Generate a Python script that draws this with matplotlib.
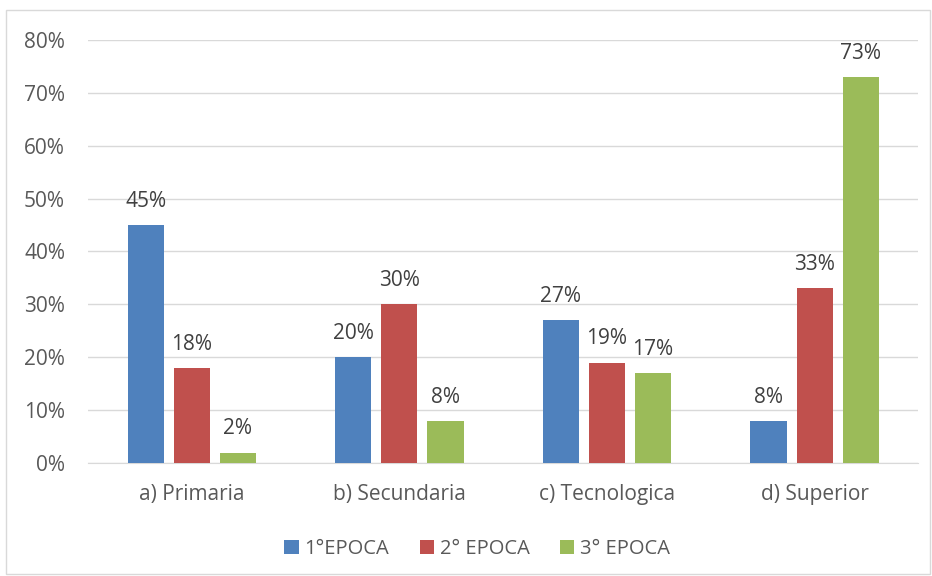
import numpy as np
import matplotlib
matplotlib.use("Agg")
import matplotlib.pyplot as plt
from matplotlib.patches import Rectangle
from matplotlib.ticker import PercentFormatter

categories = ["a) Primaria", "b) Secundaria", "c) Tecnologica", "d) Superior"]
series = ["1°EPOCA", "2° EPOCA", "3° EPOCA"]
epoca1 = [45, 20, 27, 8]
epoca2 = [18, 30, 19, 33]
epoca3 = [2, 8, 17, 73]
colors = ["#4f81bd", "#c0504d", "#9bbb59"]

plt.rcParams["font.family"] = ["Open Sans", "DejaVu Sans"]

fig = plt.figure(figsize=(9.32, 5.76), dpi=100)
ax = fig.add_axes([0.0944, 0.196, 0.891, 0.735])

x = np.arange(len(categories))
width = 0.174
step = 0.222
for i, (vals, name) in enumerate(zip([epoca1, epoca2, epoca3], series)):
    pos = x + (i - 1) * step
    bars = ax.bar(pos, vals, width, color=colors[i], label=name, zorder=3)
    for b, v in zip(bars, vals):
        ax.text(b.get_x() + b.get_width() / 2, v + 2.5, f"{v}%",
                ha="center", va="bottom", fontsize=15, color="#404040")

ax.set_xlim(-0.5, 3.5)
ax.set_ylim(0, 80)
ax.set_yticks(np.arange(0, 81, 10))
ax.yaxis.set_major_formatter(PercentFormatter(decimals=0))
ax.grid(axis="y", color="#d9d9d9", lw=1, zorder=0)
for s in ["top", "right", "left"]:
    ax.spines[s].set_visible(False)
ax.spines["bottom"].set_color("#d9d9d9")
ax.tick_params(axis="both", length=0, labelsize=15, colors="#595959")
ax.tick_params(axis="y", pad=16.5)
ax.tick_params(axis="x", pad=15)
ax.set_xticks(x)
ax.set_xticklabels(categories)

ax.legend(loc="center", bbox_to_anchor=(0.4687, -0.203), ncol=3, frameon=False,
          fontsize=14.5, handlelength=0.7, handleheight=0.7, columnspacing=1.5,
          handletextpad=0.3, labelcolor="#595959")

fig.patches.append(Rectangle((6 / 932, 2 / 576), 924 / 932, 564 / 576,
                             transform=fig.transFigure, fill=False,
                             edgecolor="#d9d9d9", lw=1))

fig.savefig("out.png", dpi=100)
